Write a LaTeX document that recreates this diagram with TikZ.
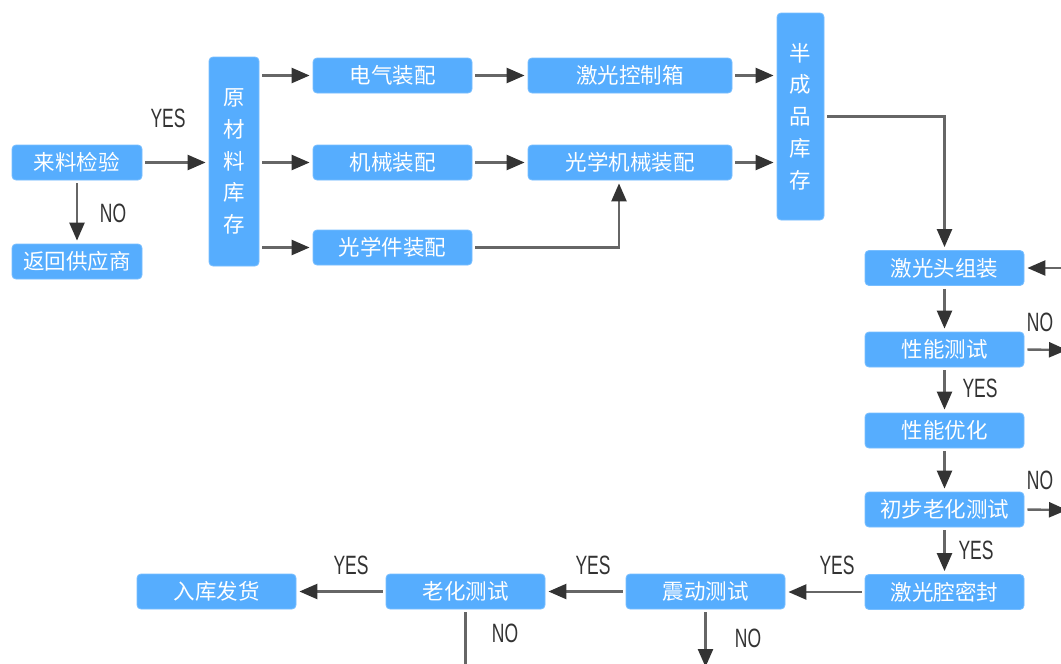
\documentclass[tikz,border=0pt]{standalone}
\usepackage{fontspec}
\newfontfamily\cjk{Noto Sans CJK SC}
\newfontfamily\labfont[FakeStretch=0.66]{Liberation Sans}
\usetikzlibrary{arrows.meta}
\definecolor{boxfill}{HTML}{56ADFE}
\definecolor{boxline}{HTML}{78BEFF}
\definecolor{linegray}{HTML}{666666}
\definecolor{headgray}{HTML}{333333}
\tikzset{
  x=1pt, y=-1pt,
  box/.style={draw=boxline, line width=0.8pt, fill=boxfill, rounded corners=4pt,
    text=white, inner sep=0pt, minimum height=35pt,
    font=\cjk\fontsize{21.5}{31.7}\selectfont},
  wbox/.style={box, minimum width=159pt},
  vbox/.style={box, align=center},
  lab/.style={text=headgray, inner sep=0pt, font=\labfont\fontsize{26.5}{26.5}\selectfont},
  conn/.style={draw=linegray, line width=2.4pt, shorten <=3pt, shorten >=3pt,
    -{Triangle[length=18pt, width=15pt, color=headgray]}}
}
\begin{document}
\begin{tikzpicture}
\useasboundingbox (0,0) rectangle (1061,664);
\fill[white] (0,0) rectangle (1061,664);
% left column
\node[box, minimum width=130pt] (ljjy) at (77,162.5) {来料检验};
\node[box, minimum width=130pt] (fhgys) at (77,261.5) {返回供应商};
\node[vbox, minimum width=50pt, minimum height=209pt] (yclkc) at (234,161.5) {原\\材\\料\\库\\存};
% assembly
\node[wbox] (dqzp) at (392.5,75.5) {电气装配};
\node[wbox] (jxzp) at (392.5,162.5) {机械装配};
\node[wbox] (gxjzp) at (392.5,247.5) {光学件装配};
\node[box, minimum width=204pt] (jgkzx) at (630,75.5) {激光控制箱};
\node[box, minimum width=204pt] (gxjxzp) at (630,162.5) {光学机械装配};
\node[vbox, minimum width=47pt, minimum height=207pt] (bcpkc) at (800.5,116.5) {半\\成\\品\\库\\存};
% right column
\node[wbox] (jgtzz) at (944.5,268) {激光头组装};
\node[wbox] (xncs) at (944.5,349.5) {性能测试};
\node[wbox] (xnyh) at (944.5,430.5) {性能优化};
\node[wbox] (cblhcs) at (944.5,509.5) {初步老化测试};
\node[wbox] (jgqmf) at (944.5,592) {激光腔密封};
% bottom row
\node[wbox] (zdcs) at (705.5,591.5) {震动测试};
\node[wbox] (lhcs) at (465.5,591.5) {老化测试};
\node[wbox] (rkfh) at (216.5,591.5) {入库发货};
% off-page ends
\coordinate (inR) at (1080,268);
\coordinate (outA) at (1067,350);
\coordinate (outB) at (1067,510);
\coordinate (outC) at (705.5,667);
\coordinate (outD) at (465.5,700);
% connectors
\draw[conn] (ljjy.east) -- (yclkc.west |- ljjy.east);
\draw[conn] (ljjy.south) -- (fhgys.north);
\draw[conn] (yclkc.east |- dqzp.west) -- (dqzp.west);
\draw[conn] (yclkc.east |- jxzp.west) -- (jxzp.west);
\draw[conn] (yclkc.east |- gxjzp.west) -- (gxjzp.west);
\draw[conn] (dqzp.east) -- (jgkzx.west);
\draw[conn] (jxzp.east) -- (gxjxzp.west);
\draw[conn] (gxjzp.east) -| ([xshift=-11pt]gxjxzp.south);
\draw[conn] (jgkzx.east) -- (bcpkc.west |- jgkzx.east);
\draw[conn] (gxjxzp.east) -- (bcpkc.west |- gxjxzp.east);
\draw[conn] (bcpkc.east) -| (jgtzz.north);
\draw[conn, shorten <=0pt] (inR) -- (jgtzz.east);
\draw[conn] (jgtzz.south) -- (xncs.north);
\draw[conn, shorten >=0pt] (xncs.east) -- (outA);
\draw[conn] (xncs.south) -- (xnyh.north);
\draw[conn] (xnyh.south) -- (cblhcs.north);
\draw[conn, shorten >=0pt] (cblhcs.east) -- (outB);
\draw[conn] (cblhcs.south) -- (jgqmf.north);
\draw[conn] (jgqmf.west) -- (zdcs.east |- jgqmf.west);
\draw[conn] (zdcs.west) -- (lhcs.east);
\draw[conn] (lhcs.west) -- (rkfh.east);
\draw[conn, shorten >=0pt] (zdcs.south) -- (outC);
\draw[conn, shorten >=0pt] (lhcs.south) -- (outD);
% labels
\node[lab] (l1) at (168,118) {YES};
\node[lab] (l2) at (113,213) {NO};
\node[lab] (l3) at (1040,322) {NO};
\node[lab] (l4) at (980,388) {YES};
\node[lab] (l5) at (1040,480) {NO};
\node[lab] (l6) at (976,550) {YES};
\node[lab] (l7) at (837,565) {YES};
\node[lab] (l8) at (593,565) {YES};
\node[lab] (l9) at (351,565) {YES};
\node[lab] (l10) at (505,633) {NO};
\node[lab] (l11) at (748,638) {NO};
\end{tikzpicture}
\end{document}
